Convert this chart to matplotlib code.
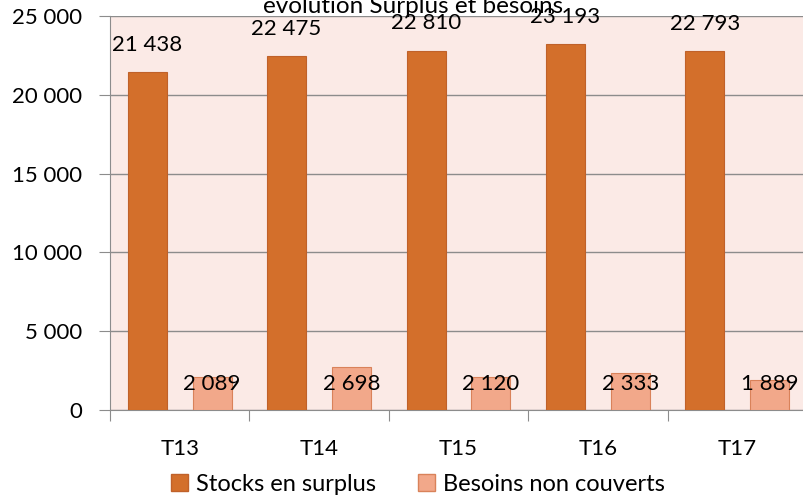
import matplotlib

matplotlib.use("Agg")
import matplotlib.pyplot as plt
import numpy as np
from matplotlib.patches import Patch

categories = ["T13", "T14", "T15", "T16", "T17"]
stocks = [21438, 22475, 22810, 23193, 22793]
besoins = [2089, 2698, 2120, 2333, 1889]
y_ticks = [0, 5000, 10000, 15000, 20000, 25000]

ORANGE = "#D36F2B"
LIGHT = "#F2A88A"
BG = "#FBEAE6"
GRID = "#8C8C8C"
FS = 16


def fmt(v):
    return f"{v:,}".replace(",", " ")


plt.rcParams["font.family"] = ["Lato", "DejaVu Sans"]
fig = plt.figure(figsize=(8.04, 4.98), dpi=100)
ax = fig.add_axes([110 / 804, 1 - 410 / 498, 697 / 804, 394 / 498])
ax.set_facecolor(BG)

x = np.arange(len(categories))
w = 0.28
off = 0.233
ax.bar(x - off, stocks, w, color=ORANGE, edgecolor="#C0612A", linewidth=0.8, zorder=3)
ax.bar(x + off, besoins, w, color=LIGHT, edgecolor="#D9825A", linewidth=0.8, zorder=3)

for xi, v in zip(x, stocks):
    ax.annotate(fmt(v), (xi - off, v), xytext=(0, 19.5), textcoords="offset points",
                ha="center", va="center", fontsize=FS, zorder=5)
for xi, v in zip(x, besoins):
    ax.annotate(fmt(v), (xi + off, 0), xytext=(0, 18.5), textcoords="offset points",
                ha="center", va="center", fontsize=FS, zorder=5)

ax.set_xlim(-0.5, len(categories) - 0.5)
ax.set_ylim(0, 25000)
ax.set_yticks(y_ticks)
ax.set_yticklabels([fmt(v) for v in y_ticks], fontsize=FS)
ax.yaxis.grid(True, color=GRID, linewidth=1, zorder=1)
ax.set_axisbelow(True)

ax.set_xticks(np.arange(len(categories) + 1) - 0.5)
ax.set_xticklabels([])
ax.set_xticks(x, minor=True)
ax.set_xticklabels(categories, minor=True, fontsize=FS)
ax.tick_params(axis="x", which="major", length=8, color=GRID, direction="out")
ax.tick_params(axis="x", which="minor", length=0, pad=21)
ax.tick_params(axis="y", length=8, color=GRID, pad=12)

for s in ["top", "right"]:
    ax.spines[s].set_visible(False)
for s in ["left", "bottom"]:
    ax.spines[s].set_color(GRID)

fig.text(413 / 804, 1 - 13 / 498, "évolution Surplus et besoins", ha="center",
         va="baseline", fontsize=17.5)

handles = [Patch(facecolor=ORANGE, edgecolor="#C0612A", label="Stocks en surplus"),
           Patch(facecolor=LIGHT, edgecolor="#D9825A", label="Besoins non couverts")]
fig.legend(handles=handles, loc="center", bbox_to_anchor=(418 / 804, 1 - 484 / 498),
           ncol=2, frameon=False, fontsize=17, handlelength=0.7, handleheight=0.7,
           handletextpad=0.35, columnspacing=1.8)

fig.savefig("out.png", dpi=100)
